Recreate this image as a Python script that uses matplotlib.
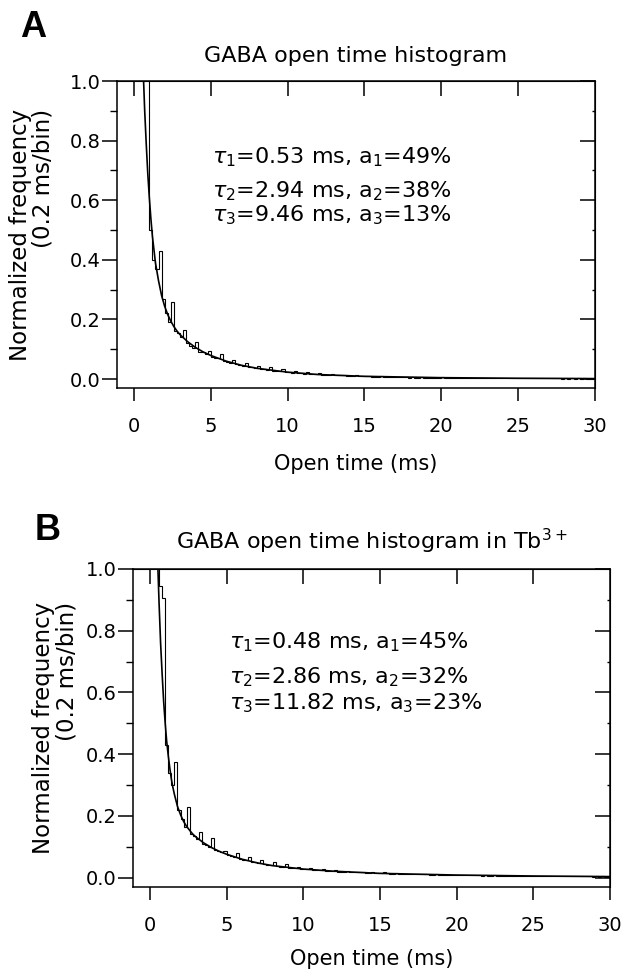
import matplotlib.pyplot as plt
import numpy as np
from matplotlib.ticker import MultipleLocator, FormatStrFormatter

plt.rcParams['font.family'] = 'DejaVu Sans'
plt.rcParams['mathtext.fontset'] = 'dejavusans'

bin_width = 0.2  # ms per bin

# Panel A: GABA alone
a_first_edge = 0.6
a_counts = [1.40, 1.15,
            0.50, 0.40, 0.37, 0.43, 0.27,
            0.22, 0.19, 0.26, 0.16, 0.155,
            0.14, 0.165, 0.12, 0.11, 0.105,
            0.125, 0.09, 0.09, 0.085, 0.095,
            0.075, 0.07, 0.07, 0.085, 0.062,
            0.058, 0.055, 0.065, 0.05, 0.047,
            0.045, 0.055, 0.041, 0.039, 0.037,
            0.045, 0.034, 0.032, 0.031, 0.040,
            0.028, 0.027, 0.026, 0.032, 0.023,
            0.022, 0.021, 0.028, 0.020, 0.019,
            0.018, 0.024, 0.017, 0.016, 0.016,
            0.020, 0.015, 0.014, 0.014, 0.018,
            0.013, 0.012, 0.012, 0.015, 0.011,
            0.011, 0.010, 0.013, 0.010, 0.009,
            0.009, 0.011, 0.008, 0.008, 0.008,
            0.010, 0.007, 0.007, 0.007, 0.008,
            0.006, 0.006, 0.007, 0.006, 0.005,
            0.006, 0.005, 0.005, 0.006, 0.005,
            0.005, 0.005, 0.004, 0.005, 0.004,
            0.006, 0.004, 0.004, 0.005, 0.004,
            0.004, 0.004, 0.003, 0.004, 0.004,
            0.003, 0.004, 0.003, 0.003, 0.004,
            0.003, 0.003, 0.003, 0.004, 0.003,
            0.003, 0.002, 0.003, 0.003, 0.002,
            0.002, 0.003, 0.002, 0.002, 0.003,
            0.002, 0.002, 0.002, 0.003, 0.002,
            0.002, 0.002, 0.002, 0.002, 0.001,
            0.002, 0.001, 0.002, 0.001, 0.002,
            0.001, 0.002, 0.001, 0.001, 0.001]
a_fit_t = [0.6, 0.7, 0.8, 0.9, 1.0, 1.1, 1.2, 1.3, 1.4, 1.5, 1.6, 1.8, 2.0, 2.2,
           2.4, 2.6, 2.8, 3.0, 3.5, 4.0, 4.5, 5.0, 6.0, 7.0, 8.0, 10, 12, 15, 20, 25, 30]
a_fit_y = [1.04, 0.90, 0.79, 0.69, 0.61, 0.54, 0.48, 0.435, 0.39, 0.36, 0.33, 0.28,
           0.244, 0.216, 0.194, 0.176, 0.161, 0.149, 0.125, 0.106, 0.091, 0.079,
           0.060, 0.046, 0.036, 0.023, 0.015, 0.009, 0.0045, 0.0025, 0.0014]
a_params = [r'$\tau_1$=0.53 ms, a$_1$=49%',
            r'$\tau_2$=2.94 ms, a$_2$=38%',
            r'$\tau_3$=9.46 ms, a$_3$=13%']

# Panel B: GABA in Tb3+
b_first_edge = 0.4
b_counts = [1.30, 0.945, 0.905,
            0.43, 0.34, 0.30, 0.375, 0.22,
            0.19, 0.165, 0.23, 0.14, 0.135,
            0.125, 0.148, 0.11, 0.105, 0.10,
            0.128, 0.09, 0.087, 0.082, 0.088,
            0.072, 0.07, 0.067, 0.08, 0.062,
            0.058, 0.056, 0.066, 0.052, 0.05,
            0.047, 0.058, 0.044, 0.042, 0.040,
            0.050, 0.037, 0.036, 0.035, 0.043,
            0.032, 0.031, 0.030, 0.036, 0.028,
            0.027, 0.027, 0.032, 0.025, 0.025,
            0.024, 0.028, 0.022, 0.022, 0.021,
            0.025, 0.020, 0.020, 0.019, 0.022,
            0.018, 0.018, 0.017, 0.020, 0.017,
            0.016, 0.016, 0.018, 0.015, 0.015,
            0.014, 0.017, 0.014, 0.013, 0.013,
            0.015, 0.013, 0.012, 0.012, 0.013,
            0.012, 0.011, 0.012, 0.011, 0.011,
            0.011, 0.010, 0.010, 0.011, 0.010,
            0.010, 0.009, 0.010, 0.009, 0.009,
            0.009, 0.009, 0.008, 0.009, 0.008,
            0.008, 0.008, 0.008, 0.007, 0.008,
            0.007, 0.007, 0.008, 0.007, 0.007,
            0.007, 0.006, 0.007, 0.006, 0.006,
            0.006, 0.006, 0.006, 0.005, 0.006,
            0.006, 0.005, 0.005, 0.006, 0.005,
            0.005, 0.005, 0.005, 0.004, 0.005,
            0.005, 0.004, 0.004, 0.005, 0.004,
            0.004, 0.004, 0.004, 0.004, 0.003,
            0.004, 0.003, 0.004, 0.003, 0.003]
b_fit_t = [0.5, 0.6, 0.7, 0.8, 0.9, 1.0, 1.1, 1.2, 1.3, 1.4, 1.5, 1.6, 1.8, 2.0, 2.2,
           2.4, 2.6, 2.8, 3.0, 3.5, 4.0, 4.5, 5.0, 6.0, 7.0, 8.0, 10, 12, 15, 20, 25, 30]
b_fit_y = [1.04, 0.89, 0.76, 0.66, 0.57, 0.50, 0.44, 0.395, 0.355, 0.32, 0.293, 0.27,
           0.231, 0.204, 0.182, 0.166, 0.153, 0.141, 0.132, 0.113, 0.098, 0.086, 0.076,
           0.060, 0.048, 0.039, 0.028, 0.021, 0.014, 0.0086, 0.0055, 0.0036]
b_params = [r'$\tau_1$=0.48 ms, a$_1$=45%',
            r'$\tau_2$=2.86 ms, a$_2$=32%',
            r'$\tau_3$=11.82 ms, a$_3$=23%']

x_ticks = [0, 5, 10, 15, 20, 25, 30]


def draw_panel(ax, first_edge, counts, fit_t, fit_y, params, text_xy, title):
    edges = first_edge + bin_width * np.arange(len(counts) + 1)
    ax.stairs(counts, edges, baseline=None, color='black', lw=0.8)
    ax.plot(fit_t, fit_y, color='black', lw=1.2)

    ax.set_xlim(-1.1, 30)
    ax.set_ylim(-0.03, 1.0)
    for s in ax.spines.values():
        s.set_linewidth(1.1)

    # bottom / left: outward ticks with labels
    ax.set_xticks(x_ticks)
    ax.yaxis.set_major_locator(MultipleLocator(0.2))
    ax.yaxis.set_minor_locator(MultipleLocator(0.1))
    ax.yaxis.set_major_formatter(FormatStrFormatter('%.1f'))
    ax.tick_params(axis='x', direction='out', length=9, width=1.1, pad=12, labelsize=14)
    ax.tick_params(axis='y', which='major', direction='out', length=11, width=1.1, pad=1, labelsize=14)
    ax.tick_params(axis='y', which='minor', direction='out', length=5, width=1.0)

    # top / right: inward ticks, no labels
    top = ax.secondary_xaxis('top')
    top.set_xticks(x_ticks[:-1])
    top.tick_params(direction='in', length=11, width=1.1, labeltop=False)
    right = ax.secondary_yaxis('right')
    right.yaxis.set_major_locator(MultipleLocator(0.2))
    right.yaxis.set_minor_locator(MultipleLocator(0.1))
    right.tick_params(which='major', direction='in', length=11, width=1.1, labelright=False)
    right.tick_params(which='minor', direction='in', length=2, width=1.0)

    x0, ys = text_xy
    for line, y in zip(params, ys):
        ax.text(x0, y, line, fontsize=16, ha='left', va='baseline')

    ax.set_title(title, fontsize=16, y=1.062, pad=0)


fig = plt.figure(figsize=(6.36, 9.75), dpi=100)
ax_a = fig.add_axes([0.184, 0.6021, 0.7516, 0.3148])
ax_b = fig.add_axes([0.2091, 0.0903, 0.75, 0.3262])

draw_panel(ax_a, a_first_edge, a_counts, a_fit_t, a_fit_y, a_params,
           (5.1, [0.725, 0.611, 0.530]), 'GABA open time histogram')
draw_panel(ax_b, b_first_edge, b_counts, b_fit_t, b_fit_y, b_params,
           (5.13, [0.744, 0.628, 0.544]), r'GABA open time histogram in Tb$^{3+}$')

for ax, lx in [(ax_a, -0.13), (ax_b, -0.115)]:
    ax.set_ylabel('Normalized frequency\n(0.2 ms/bin)', fontsize=16.5, linespacing=1.0,
                  multialignment='right')
    ax.yaxis.set_label_coords(lx, 0.5)
    ax.set_xlabel('Open time (ms)', fontsize=15)

ax_a.xaxis.set_label_coords(0.5, -0.215)
ax_b.xaxis.set_label_coords(0.5, -0.195)

fig.text(0.052, 0.972, 'A', fontsize=26, fontweight='bold', family='Liberation Sans',
         ha='center', va='center')
fig.text(0.0755, 0.4564, 'B', fontsize=26, fontweight='bold', family='Liberation Sans',
         ha='center', va='center')

fig.savefig('out.png', dpi=100)
